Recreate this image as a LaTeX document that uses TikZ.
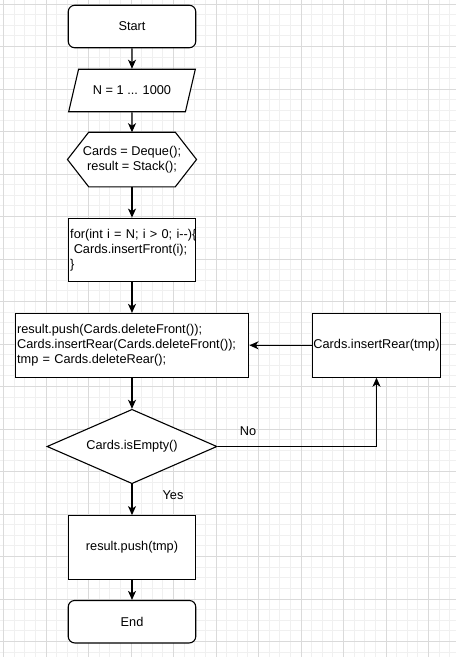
\documentclass[tikz,border=0pt]{standalone}
\usepackage{fontspec}
\setmainfont{Liberation Sans}
\usetikzlibrary{shapes,arrows.meta}
\definecolor{gridmajor}{HTML}{DADADA}
\definecolor{gridminor}{HTML}{F0F0F0}
\tikzstyle{term} = [rectangle, rounded corners=6.5pt, draw, fill=white,
                    minimum width=127.5pt, minimum height=42.5pt]
\tikzstyle{proc} = [rectangle, sharp corners, draw, fill=white,
                    minimum width=127.5pt, minimum height=63.75pt]
\tikzstyle{io} = [trapezium, trapezium stretches=true, draw, fill=white,
                  trapezium left angle=63.4, trapezium right angle=116.6,
                  minimum width=127.5pt, minimum height=42.5pt]
\tikzstyle{decide} = [diamond, aspect=2.3, draw, fill=white, inner sep=1pt,
                      minimum width=170pt, minimum height=74.4pt]
\tikzstyle{line} = [draw, -{Stealth[length=9pt,width=8pt,inset=2.5pt]}]

\begin{document}
\begin{tikzpicture}[x=1pt, y=-1pt, line width=1.1pt,
font=\fontsize{12.75}{15.3}\selectfont,
minorgrid/.style={gridminor, line width=0.8pt},
majorgrid/.style={gridmajor, line width=0.8pt}]
\useasboundingbox (0,0) rectangle (456,657);
\fill[white] (0,0) rectangle (456,657);
%Grid
\foreach \i in {-1,...,43} \draw[minorgrid] (3.5+10.625*\i,0) -- (3.5+10.625*\i,657);
\foreach \j in {-1,...,61} \draw[minorgrid] (0,4+10.625*\j) -- (456,4+10.625*\j);
\foreach \i in {0,...,10} \draw[majorgrid] (3.5+42.5*\i,0) -- (3.5+42.5*\i,657);
\foreach \j in {0,...,15} \draw[majorgrid] (0,4+42.5*\j) -- (456,4+42.5*\j);

%Start
\node[term] at (132,26.5) (start){Start};
\node[io] at (132,90.5) (input){N = 1 ... 1000};

%Init (hexagon)
\node[rectangle, minimum width=128pt, minimum height=53.5pt, inner sep=0pt, align=center]
  at (132,159.5) (init){Cards = Deque();\\result = Stack();};
\filldraw[fill=white] (init.west) -- ([xshift=21.25pt]init.north west) -- ([xshift=-21.25pt]init.north east)
  -- (init.east) -- ([xshift=-21.25pt]init.south east) -- ([xshift=21.25pt]init.south west) -- cycle;
\node[align=center, inner sep=0pt] at (init.center) {Cards = Deque();\\result = Stack();};

%Loop
\node[proc, text width=123.5pt, inner xsep=2pt, align=left] at (132,250) (fill)
  {\mbox{for(int i = N; i > 0; i-{}-)\{}\\\hspace*{.278em}Cards.insertFront(i);\\\}};
\node[proc, minimum width=233.75pt, text width=229.75pt, inner xsep=2pt, align=left] at (132,345.3) (body)
  {result.push(Cards.deleteFront());\\Cards.insertRear(Cards.deleteFront());\\tmp = Cards.deleteRear();};
\node[proc, inner xsep=0pt] at (376.5,345.3) (rear){Cards.insertRear(tmp)};

%Check
\node[decide] at (132,446.5) (check){Cards.isEmpty()};
\node[proc] at (132,547.5) (push){result.push(tmp)};
\node[term] at (132,621.7) (end){End};

\node at (248,431) (lno){No};
\node at (173,495) (lyes){Yes};

%Arrows
\draw[line] (start.south) -- (input.north);
\draw[line] (input.south) -- (init.north);
\draw[line] (init.south) -- (fill.north);
\draw[line] (fill.south) -- (body.north);
\draw[line] (body.south) -- (check.north);
\draw[line] (check.south) -- (push.north);
\draw[line] (push.south) -- (end.north);
\draw[line] (rear.west) -- (body.east);
\draw[line] (check.east) -| (rear.south);
\end{tikzpicture}
\end{document}
